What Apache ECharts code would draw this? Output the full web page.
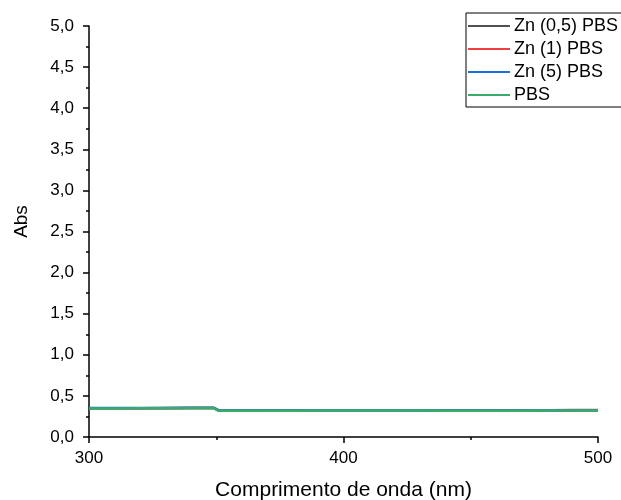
<!DOCTYPE html>
<html>
<head>
<meta charset="utf-8">
<script src="https://cdn.jsdelivr.net/npm/echarts@6/dist/echarts.min.js"></script>
<style>
  html, body { margin: 0; padding: 0; background: #fff; }
  #chart { width: 621px; height: 500px; }
</style>
</head>
<body>
<div id="chart"></div>
<script>
// comprimento de onda (nm)
var wavelength = [300, 310, 320, 330, 340, 349, 351, 360, 370, 380, 390, 400, 410, 420, 430, 440, 450, 460, 470, 480, 490, 500];

// absorbancia de cada amostra
var zn05 = [0.350, 0.350, 0.351, 0.352, 0.353, 0.354, 0.322, 0.320, 0.321, 0.322, 0.324, 0.325, 0.325, 0.324, 0.323, 0.322, 0.322, 0.322, 0.322, 0.323, 0.324, 0.325];
var zn1  = [0.349, 0.349, 0.350, 0.351, 0.352, 0.353, 0.323, 0.322, 0.323, 0.324, 0.325, 0.326, 0.326, 0.325, 0.324, 0.323, 0.323, 0.324, 0.325, 0.326, 0.327, 0.328];
var zn5  = [0.352, 0.352, 0.353, 0.354, 0.355, 0.356, 0.323, 0.321, 0.322, 0.323, 0.325, 0.326, 0.325, 0.324, 0.323, 0.323, 0.323, 0.323, 0.323, 0.324, 0.325, 0.326];
var pbs  = [0.348, 0.348, 0.349, 0.350, 0.351, 0.352, 0.319, 0.318, 0.319, 0.320, 0.322, 0.323, 0.323, 0.322, 0.321, 0.320, 0.320, 0.320, 0.320, 0.321, 0.322, 0.323];

var names  = ['Zn (0,5) PBS', 'Zn (1) PBS', 'Zn (5) PBS', 'PBS'];
var colors = ['#515151', '#F14040', '#1A6FDF', '#37AD6B'];

function pairs(ys) {
  return wavelength.map(function (x, i) { return [x, ys[i]]; });
}

var chart = echarts.init(document.getElementById('chart'));

var fontFam = 'Liberation Sans, Arial, sans-serif';

var option = {
  animation: false,
  backgroundColor: '#fff',
  color: colors,
  grid: { left: 89, right: 23, top: 26, bottom: 63, containLabel: false, outerBoundsMode: 'none' },
  legend: {
    orient: 'vertical',
    left: 466,
    top: 13,
    data: names,
    icon: 'rect',
    itemWidth: 42,
    itemHeight: 2,
    itemGap: 5,
    padding: [4, 4, 3, 2],
    borderColor: '#000',
    borderWidth: 1,
    borderRadius: 0,
    textStyle: { fontFamily: fontFam, fontSize: 18, color: '#000', padding: [0, 0, 0, -1] }
  },
  xAxis: {
    type: 'value',
    min: 300,
    max: 500,
    interval: 100,
    name: 'Comprimento de onda (nm)',
    nameLocation: 'middle',
    nameGap: 43,
    nameTextStyle: { fontFamily: fontFam, fontSize: 21, color: '#000' },
    axisLine: { lineStyle: { color: '#000', width: 1.5 } },
    axisTick: { length: 6, lineStyle: { color: '#000', width: 1.5 } },
    minorTick: { show: true, splitNumber: 2, length: 3, lineStyle: { color: '#000', width: 1.5 } },
    axisLabel: { fontFamily: fontFam, fontSize: 17, color: '#000', margin: 13 },
    splitLine: { show: false }
  },
  yAxis: {
    type: 'value',
    min: 0,
    max: 5,
    interval: 0.5,
    name: 'Abs',
    nameLocation: 'middle',
    nameGap: 58,
    nameTextStyle: { fontFamily: fontFam, fontSize: 19, color: '#000', padding: [0, 0, 0, 20] },
    axisLine: { show: true, lineStyle: { color: '#000', width: 1.5 } },
    axisTick: { show: true, length: 6, lineStyle: { color: '#000', width: 1.5 } },
    minorTick: { show: true, splitNumber: 2, length: 3, lineStyle: { color: '#000', width: 1.5 } },
    axisLabel: {
      fontFamily: fontFam, fontSize: 17, color: '#000', margin: 15,
      formatter: function (v) { return v.toFixed(1).replace('.', ','); }
    },
    splitLine: { show: false }
  },
  series: [
    { name: names[0], type: 'line', data: pairs(zn05), showSymbol: false, lineStyle: { width: 2.5 } },
    { name: names[1], type: 'line', data: pairs(zn1), showSymbol: false, lineStyle: { width: 2.5 } },
    { name: names[2], type: 'line', data: pairs(zn5), showSymbol: false, lineStyle: { width: 2.5 } },
    { name: names[3], type: 'line', data: pairs(pbs), showSymbol: false, lineStyle: { width: 2.5 } }
  ]
};

chart.setOption(option);
</script>
</body>
</html>
